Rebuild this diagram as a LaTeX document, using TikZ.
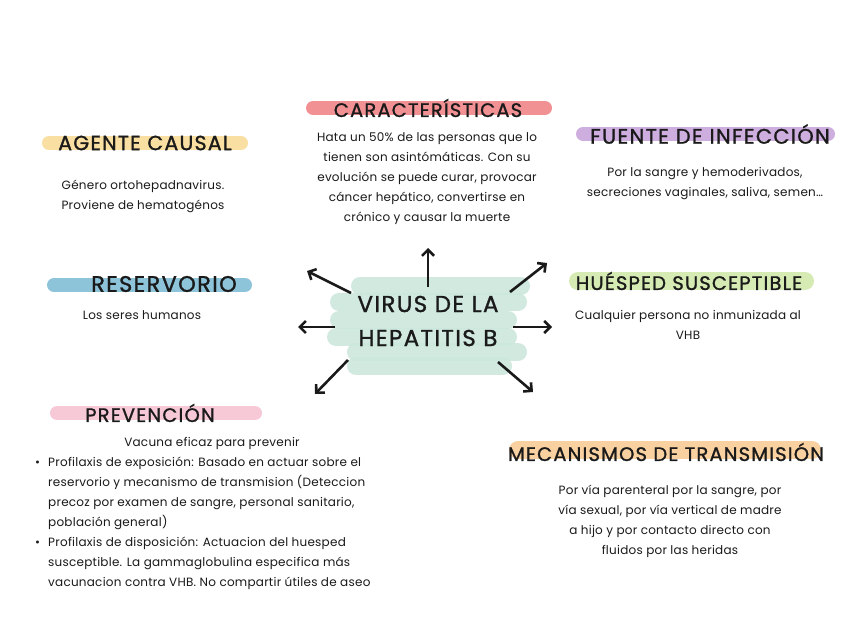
\documentclass[tikz,border=0pt]{standalone}
\usepackage{fontspec}
\setmainfont{Poppins}
\newfontfamily\headfont{Poppins}[FakeBold=1.2, LetterSpace=6]
\newfontfamily\bodyfont{Poppins}[LetterSpace=2]
\usetikzlibrary{arrows.meta}
\definecolor{barpink}{HTML}{F29194}
\definecolor{baryellow}{HTML}{F9DFA2}
\definecolor{barpurple}{HTML}{CDAEDF}
\definecolor{barblue}{HTML}{8EC4D9}
\definecolor{bargreen}{HTML}{D6EBB4}
\definecolor{barrose}{HTML}{F7C9D6}
\definecolor{barorange}{HTML}{F9D0A0}
\definecolor{brush}{HTML}{CCE7DC}
\definecolor{ink}{HTML}{1A1A1A}
\begin{document}
\begin{tikzpicture}[x=1pt,y=-1pt,
  head/.style={font=\headfont\fontsize{19.5}{22}\selectfont, text=ink, inner sep=0},
  body/.style={font=\bodyfont\fontsize{12}{20}\selectfont, text=ink, align=center, inner sep=0},
  item/.style={body, align=left, anchor=north west},
  bullet/.style={body, anchor=north west},
  bar/.style={line cap=round, line width=14pt},
  brushstroke/.style={line cap=round, line width=18pt, draw=brush, opacity=0.9},
  arr/.style={draw=ink, line width=2.6pt, -{Straight Barb[length=6pt,width=12pt,line width=2.6pt]}}
]
\useasboundingbox (0,0) rectangle (848,636);
\fill[white] (0,0) rectangle (848,636);

% highlight bars
\draw[bar, draw=barpink]   (313,108) -- (545,108);
\draw[bar, draw=baryellow] (49,143) -- (241,143);
\draw[bar, draw=barpurple] (583,134) -- (828,134);
\draw[bar, draw=barblue]   (54,285) -- (245,285);
\draw[bar, draw=bargreen, line width=18pt] (578,281) -- (805,281);
\draw[bar, draw=barrose]   (57,413) -- (255,413);
\draw[bar, draw=barorange, line width=18pt] (518,450) -- (812,450);

% center brush
\draw[brushstroke] (360,286) -- (521,286);
\draw[brushstroke] (339,302) -- (518,302);
\draw[brushstroke] (339,320) -- (508,320);
\draw[brushstroke] (336,337) -- (508,337);
\draw[brushstroke] (356,352) -- (518,352);
\draw[brushstroke] (356,366) -- (503,366);

% headings
\node[head] (car) at (428,108) {CARACTERÍSTICAS};
\node[head, font=\headfont\fontsize{20.5}{22}\selectfont] (age) at (145,143) {AGENTE CAUSAL};
\node[head, font=\headfont\fontsize{21}{22}\selectfont] (fue) at (710,134) {FUENTE DE INFECCIÓN};
\node[head, font=\headfont\fontsize{22.5}{22}\selectfont] (res) at (164,284) {RESERVORIO};
\node[head] (hue) at (689,281) {HUÉSPED SUSCEPTIBLE};
\node[head] (pre) at (150,413) {PREVENCIÓN};
\node[head] (mec) at (666,452) {MECANISMOS DE TRANSMISIÓN};

\node[font=\headfont\fontsize{23}{34}\selectfont, text=ink, align=center, inner sep=0] (virus) at (428,321) {VIRUS DE LA\\HEPATITIS B};

% bodies
\node[body, anchor=north] (carb) at (427,132) {Hata un 50\% de las personas que lo\\tienen son asintómáticas. Con su\\evolución se puede curar, provocar\\cáncer hepático, convertirse en\\crónico y causar la muerte};
\node[body, anchor=north] (ageb) at (143,180) {Género ortohepadnavirus.\\Proviene de hematogénos};
\node[body, anchor=north] (fueb) at (705,167) {Por la sangre y hemoderivados,\\secreciones vaginales, saliva, semen…};
\node[body, anchor=north] (resb) at (142,310) {Los seres humanos};
\node[body, anchor=north] (hueb) at (688,310) {Cualquier persona no inmunizada al\\VHB};
\node[body, anchor=north] (mecb) at (670,485) {Por vía parenteral por la sangre, por\\vía sexual, por vía vertical de madre\\a hijo y por contacto directo con\\fluidos por las heridas};

\node[body, anchor=north] (vac) at (212,437) {Vacuna eficaz para prevenir};
\node[bullet] (b1) at (35,457) {\vphantom{Pfl}•};
\node[item] (prev1) at (48,457) {Profilaxis de exposición: Basado en actuar sobre el\\reservorio y mecanismo de transmision (Deteccion\\precoz por examen de sangre, personal sanitario,\\población general)};
\node[bullet] (b2) at (35,537) {\vphantom{Pfl}•};
\node[item] (prev2) at (48,537) {Profilaxis de disposición: Actuacion del huesped\\susceptible. La gammaglobulina especifica más\\vacunacion contra VHB. No compartir útiles de aseo};

% arrows
\coordinate (tU) at (428,287);  \coordinate (hU) at (428,248);
\coordinate (tUL) at (351,293); \coordinate (hUL) at (307,271);
\coordinate (tUR) at (510,292); \coordinate (hUR) at (547,263);
\coordinate (tL) at (335,327);  \coordinate (hL) at (298,327);
\coordinate (tR) at (513,327);  \coordinate (hR) at (552,327);
\coordinate (tDL) at (348,360); \coordinate (hDL) at (315,394);
\coordinate (tDR) at (498,362); \coordinate (hDR) at (533,392);
\draw[arr] (tU) -- (hU);
\draw[arr] (tUL) -- (hUL);
\draw[arr] (tUR) -- (hUR);
\draw[arr] (tL) -- (hL);
\draw[arr] (tR) -- (hR);
\draw[arr] (tDL) -- (hDL);
\draw[arr] (tDR) -- (hDR);
\end{tikzpicture}
\end{document}
